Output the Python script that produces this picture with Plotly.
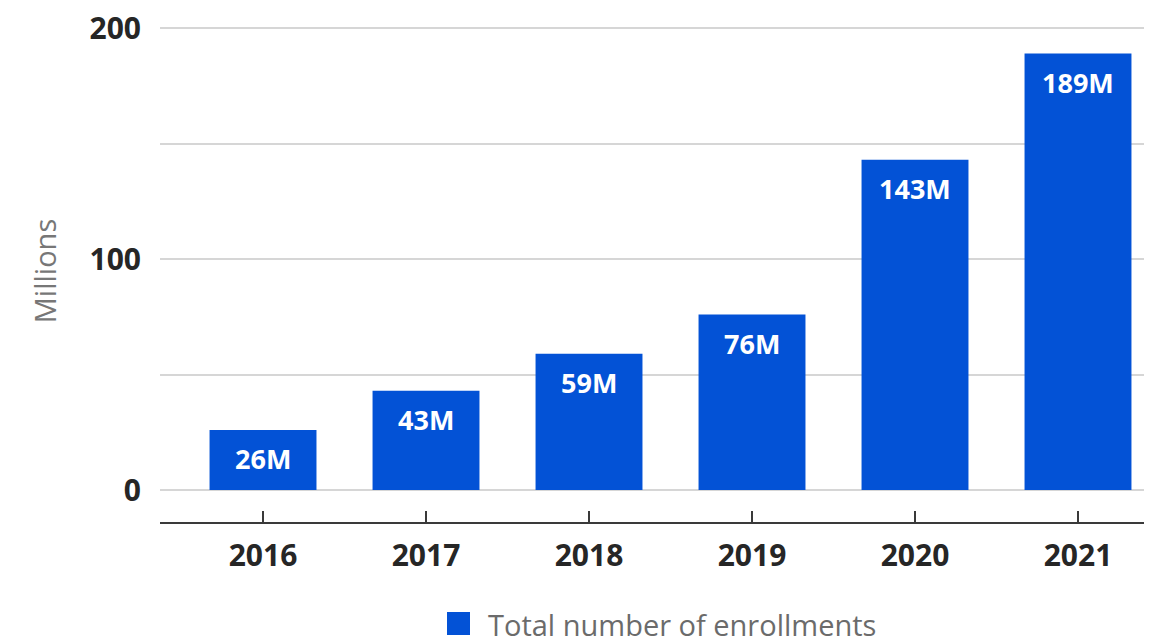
import plotly.graph_objects as go

years = ["2016", "2017", "2018", "2019", "2020", "2021"]
enrollments = [26, 43, 59, 76, 143, 189]
value_labels = ["26M", "43M", "59M", "76M", "143M", "189M"]
y_tick_values = [0, 100, 200]
y_minor_grid = [50, 150]
series_name = "Total number of enrollments"

BAR_COLOR = "#0352d6"
FONT = "Open Sans"

fig = go.Figure()
fig.add_trace(go.Bar(
    x=years, y=enrollments, name=series_name,
    marker=dict(color=BAR_COLOR, line=dict(width=0)),
    showlegend=False,
))

for i, (v, lab) in enumerate(zip(enrollments, value_labels)):
    fig.add_annotation(
        x=i, y=v, text=f"<b>{lab}</b>", showarrow=False,
        yanchor="middle", yshift=-29,
        font=dict(family=FONT, size=27, color="white"),
    )

# manual legend (paper coords relative to plot area: left 152, width 992, axis at 514, height 502)
fig.add_shape(type="rect", xref="paper", yref="paper",
              x0=(439 - 152) / 992, x1=(462 - 152) / 992,
              y0=-(604 - 514) / 502, y1=-(627 - 514) / 502,
              fillcolor=BAR_COLOR, line=dict(width=0))
fig.add_annotation(xref="paper", yref="paper",
                   x=(478 - 152) / 992, y=-(616 - 514) / 502,
                   xanchor="left", yanchor="middle", showarrow=False,
                   text=series_name,
                   font=dict(family=FONT, size=29, color="#6b6b6b"))

fig.update_layout(
    width=1144, height=635,
    margin=dict(l=152, r=0, t=12, b=121),
    paper_bgcolor="white", plot_bgcolor="white",
    bargap=0.344,
    font=dict(family=FONT),
    xaxis=dict(
        type="category", range=[-0.632, 5.454],
        showline=True, linecolor="#3a3a3a", linewidth=2,
        ticks="inside", ticklen=11, tickwidth=2, tickcolor="#3a3a3a",
        tickfont=dict(family=FONT, size=30, color="#262626", weight="bold"),
        ticklabelstandoff=6,
        showgrid=False,
    ),
    yaxis=dict(
        range=[-13.85, 203.5],
        tickvals=y_tick_values,
        ticktext=[str(v) for v in y_tick_values],
        tickfont=dict(family=FONT, size=30, color="#262626", weight="bold"),
        ticklabelstandoff=18,
        ticklabeloverflow="allow",
        showgrid=True, gridcolor="#d6d6d6", gridwidth=2,
        minor=dict(tickvals=y_minor_grid, showgrid=True, gridcolor="#d6d6d6", gridwidth=2, ticks=""),
        zeroline=False, showline=False,
        title=dict(text="Millions", standoff=24,
                   font=dict(family=FONT, size=29, color="#777777")),
    ),
)

fig.write_html("out.html")
